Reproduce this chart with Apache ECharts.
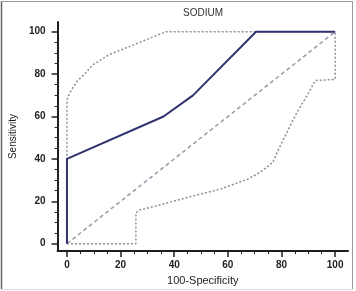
<!DOCTYPE html>
<html>
<head>
<meta charset="utf-8">
<script src="https://cdn.jsdelivr.net/npm/echarts@6/dist/echarts.min.js"></script>
<style>
html,body{margin:0;padding:0;background:#fff;}
#c{width:356px;height:291px;}
</style>
</head>
<body>
<div id="c"></div>
<script>
var titleText = 'SODIUM';
var xName = '100-Specificity';
var yName = 'Sensitivity';
var majorTicks = [0, 20, 40, 60, 80, 100];
var minorTicks = [5, 10, 15, 25, 30, 35, 45, 50, 55, 65, 70, 75, 85, 90, 95];
var rocCurve = [[0, 0], [0, 40], [36, 60], [47, 70], [70.5, 100], [100, 100]];
var upperCI = [[0, 0], [0, 68], [1, 71], [2.4, 74], [4, 77], [6.1, 79.5], [9.8, 84.5], [15.9, 89.3], [22, 92.4], [28.2, 95.5], [34.9, 99], [37, 100], [100, 100]];
var lowerCI = [[0, 0], [25.7, 0], [25.7, 14.5], [27, 15.9], [33, 17.7], [45.4, 22], [57.6, 25.9], [67.5, 30.5], [72.4, 34], [76.7, 38.3], [79.1, 45], [82.2, 53], [85.9, 62.3], [89.6, 70], [92.6, 77], [100, 77.5], [100, 100]];
var diagonal = [[0, 0], [100, 100]];

var chart = echarts.init(document.getElementById('c'), null, {renderer: 'canvas'});
var axisCol = '#1e1e1e';
var labelStyle = {color: '#222', fontSize: 10, fontWeight: 'bold', fontFamily: 'Liberation Sans, Arial, sans-serif'};

function mkAxis(isMajor, dir) {
  var base = {
    type: 'value',
    position: dir === 'x' ? 'bottom' : 'left',
    min: -3.5,
    max: dir === 'x' ? 104.8 : 104.6,
    splitLine: {show: false},
    axisLine: {show: isMajor, onZero: false, lineStyle: {color: axisCol, width: 2}},
    axisTick: {show: true, inside: false, length: isMajor ? 6 : 3, customValues: isMajor ? majorTicks : minorTicks, lineStyle: {color: axisCol, width: isMajor ? 1.5 : 1}},
    axisLabel: isMajor ? Object.assign({customValues: majorTicks, margin: dir === 'x' ? 9 : 12}, labelStyle) : {show: false}
  };
  return base;
}

var xMajor = mkAxis(true, 'x');
xMajor.name = xName;
xMajor.nameLocation = 'middle';
xMajor.nameGap = 21;
xMajor.nameTextStyle = {color: '#222', fontSize: 11, fontFamily: 'Liberation Sans, Arial, sans-serif'};
var yMajor = mkAxis(true, 'y');
yMajor.name = yName;
yMajor.nameLocation = 'middle';
yMajor.nameGap = 39;
yMajor.nameTextStyle = {color: '#222', fontSize: 10, fontFamily: 'Liberation Sans, Arial, sans-serif'};

var option = {
  animation: false,
  backgroundColor: '#fff',
  title: {
    text: titleText, left: 198, top: 3, textAlign: 'center',
    textStyle: {color: '#333', fontSize: 10, fontWeight: 'normal', fontFamily: 'Liberation Sans, Arial, sans-serif'}
  },
  grid: {left: 54, right: 8, top: 22, bottom: 36, containLabel: false},
  xAxis: [xMajor, mkAxis(false, 'x')],
  yAxis: [yMajor, mkAxis(false, 'y')],
  graphic: [
    {type: 'line', shape: {x1: 1.5, y1: 1, x2: 1.5, y2: 289}, style: {stroke: '#666', lineWidth: 1.5}, silent: true},
    {type: 'line', shape: {x1: 1, y1: 1.5, x2: 353, y2: 1.5}, style: {stroke: '#999', lineWidth: 1}, silent: true},
    {type: 'line', shape: {x1: 352.5, y1: 1, x2: 352.5, y2: 289}, style: {stroke: '#999', lineWidth: 1}, silent: true},
    {type: 'line', shape: {x1: 1, y1: 289.5, x2: 353, y2: 289.5}, style: {stroke: '#ddd', lineWidth: 1}, silent: true}
  ],
  series: [
    {type: 'line', data: diagonal, symbol: 'none', lineStyle: {color: '#9a9aa8', width: 1.5, type: [4, 3]}, z: 2},
    {type: 'line', data: upperCI, symbol: 'none', lineStyle: {color: '#8e8e9a', width: 1.5, type: [2, 2]}, z: 3},
    {type: 'line', data: lowerCI, symbol: 'none', lineStyle: {color: '#8e8e9a', width: 1.5, type: [2, 2]}, z: 3},
    {type: 'line', data: rocCurve, symbol: 'none', lineStyle: {color: '#30336e', width: 2}, z: 5}
  ]
};
chart.setOption(option);
</script>
</body>
</html>
